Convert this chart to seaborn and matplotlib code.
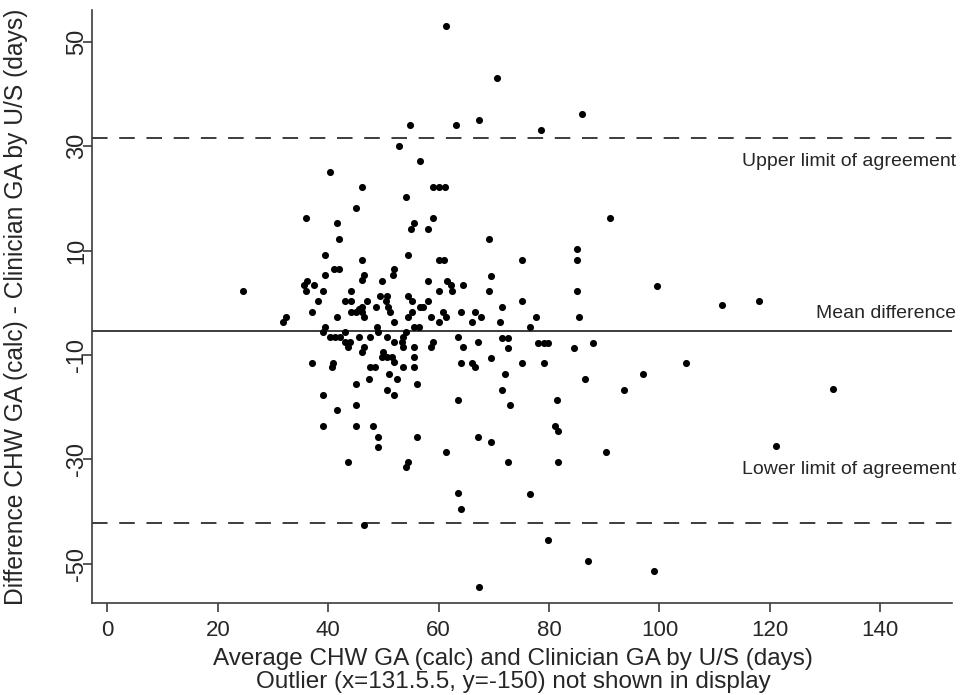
import pandas as pd
import matplotlib
matplotlib.use("Agg")
import matplotlib.pyplot as plt
import seaborn as sns

# --- data (x = average GA, y = difference) ---
avg_ga = [
    61.4, 70.5, 85.9, 54.9, 63.1, 67.4, 78.5, 52.9, 40.4, 56.6,
    46.1, 54.0, 58.9, 60.0, 61.1, 45.0, 35.9, 41.5, 55.5, 55.0,
    58.9, 58.0, 41.9, 39.5, 46.1, 54.4, 60.0, 60.9, 41.0, 41.9,
    52.0, 39.5, 46.4, 46.1, 51.7, 49.8, 58.0, 36.1, 35.6, 35.9,
    37.4, 39.0, 44.1, 61.6, 62.2, 64.5, 60.0, 62.5, 49.3, 50.6,
    38.1, 43.0, 44.1, 54.4, 55.1, 47.1, 46.1, 45.5, 48.6, 50.4,
    50.8, 51.2, 57.1, 56.6, 58.0, 44.1, 45.0, 46.1, 37.0, 41.5,
    46.4, 55.1, 54.4, 52.0, 60.7, 61.4, 58.6, 60.0, 64.1, 66.5,
    66.0, 32.3, 31.8, 39.5, 39.0, 48.8, 49.1, 55.5, 56.4, 54.0,
    40.3, 41.2, 42.1, 43.0, 43.0, 43.9, 43.6, 45.5, 47.5, 50.6,
    53.5, 53.3, 52.0, 58.9, 58.6, 63.5, 67.1, 64.4, 46.4, 46.1,
    53.5, 55.5, 50.0, 49.7, 50.6, 51.5, 52.0, 55.5, 37.0, 40.8,
    40.6, 47.5, 48.4, 53.5, 55.5, 64.0, 66.0, 66.5, 51.0, 47.3,
    52.4, 45.0, 56.0, 39.0, 50.6, 52.0, 63.5, 45.0, 41.5, 39.0,
    45.0, 48.1, 49.0, 56.0, 67.1, 49.0, 61.4, 43.5, 54.4, 54.0,
    63.5, 64.1, 46.4, 67.3, 91.0, 69.1, 85.0, 85.0, 75.1, 69.4,
    69.1, 85.0, 99.5, 75.1, 67.6, 71.4, 71.1, 77.6, 85.5, 76.5,
    71.4, 72.5, 72.5, 78.0, 79.0, 79.9, 84.5, 87.9, 69.4, 75.1,
    79.0, 72.0, 86.5, 97.0, 71.4, 93.5, 73.0, 81.5, 69.4, 81.0,
    81.6, 90.4, 72.5, 81.6, 76.5, 79.9, 87.0, 99.0, 111.4, 118.0,
    104.8, 131.4, 121.1, 24.5,
]
diff_ga = [
    53.1, 43.1, 36.2, 34.1, 34.1, 35.1, 33.1, 30.1, 25.1, 27.2,
    22.2, 20.3, 22.2, 22.2, 22.2, 18.2, 16.3, 15.3, 15.3, 14.2,
    16.3, 14.2, 12.3, 9.2, 8.2, 9.2, 8.2, 8.2, 6.5, 6.5,
    6.5, 5.4, 5.4, 4.4, 5.4, 4.2, 4.2, 4.2, 3.4, 2.3,
    3.4, 2.3, 2.3, 4.2, 3.4, 3.4, 2.3, 2.3, 1.3, 1.3,
    0.4, 0.4, 0.4, 1.3, 0.4, 0.4, -0.8, -1.1, -0.8, 0.4,
    -0.8, -1.7, -0.8, -0.8, 0.4, -1.7, -1.7, -1.7, -1.7, -2.7,
    -2.7, -1.7, -2.7, -3.6, -1.7, -2.7, -2.7, -3.6, -1.7, -1.7,
    -3.6, -2.7, -3.6, -4.6, -5.6, -4.6, -5.6, -4.6, -4.6, -5.6,
    -6.5, -6.5, -6.5, -5.6, -7.5, -7.5, -8.4, -6.5, -6.5, -6.5,
    -6.5, -7.5, -7.5, -7.5, -8.4, -6.5, -7.5, -8.4, -8.4, -9.4,
    -8.4, -8.4, -9.4, -10.3, -10.3, -10.3, -11.3, -10.3, -11.5, -11.5,
    -12.3, -12.3, -12.3, -12.3, -12.3, -11.5, -11.5, -12.3, -13.6, -14.6,
    -14.6, -15.5, -15.5, -17.6, -16.7, -17.6, -18.6, -19.5, -20.5, -23.6,
    -23.6, -23.6, -25.7, -25.7, -25.7, -27.6, -28.5, -30.5, -30.5, -31.4,
    -36.4, -39.5, -42.5, -54.4, 16.3, 12.3, 10.3, 8.2, 8.2, 5.2,
    2.3, 2.3, 3.3, 0.4, -2.7, -0.8, -3.6, -2.7, -2.7, -4.6,
    -6.7, -6.7, -8.6, -7.7, -7.7, -7.7, -8.6, -7.7, -10.5, -11.5,
    -11.5, -13.6, -14.6, -13.6, -16.7, -16.7, -19.5, -18.6, -26.6, -23.6,
    -24.5, -28.5, -30.5, -30.5, -36.6, -45.4, -49.4, -51.3, -0.4, 0.4,
    -11.5, -16.5, -27.4, 2.3,
]

mean_diff = -5.3
upper_loa = 31.6
lower_loa = -42.2

x_ticks = [0, 20, 40, 60, 80, 100, 120, 140]
y_ticks = [50, 30, 10, -10, -30, -50]

df = pd.DataFrame({"avg": avg_ga, "diff": diff_ga})

sns.set_style("ticks")
plt.rcParams["font.family"] = ["Liberation Sans", "DejaVu Sans"]
plt.rcParams["axes.unicode_minus"] = False

fig = plt.figure(figsize=(9.63, 6.95), dpi=100)
ax = fig.add_axes([0.0955, 0.1324, 0.8931, 0.8532])

sns.scatterplot(data=df, x="avg", y="diff", ax=ax, color="black",
                s=26, linewidth=0, zorder=3)

line_col = "#3c3c3c"
ax.axhline(upper_loa, color=line_col, lw=1.4, ls=(0, (8, 6)), zorder=2)
ax.axhline(lower_loa, color=line_col, lw=1.4, ls=(0, (8, 6)), zorder=2)
ax.axhline(mean_diff, color=line_col, lw=1.4, zorder=2)

trans = ax.get_yaxis_transform()
txt_kw = dict(transform=trans, ha="right", va="center", fontsize=14)
ax.text(1.005, upper_loa - 4.6, "Upper limit of agreement", **txt_kw)
ax.text(1.005, mean_diff + 3.3, "Mean difference", **txt_kw)
ax.text(1.005, -31.9, "Lower limit of agreement", **txt_kw)

ax.set_xlim(-2.8, 153)
ax.set_ylim(-57.5, 56.1)
ax.set_xticks(x_ticks)
ax.set_yticks(y_ticks)
ax.tick_params(axis="both", length=6.3, width=1.2, color=line_col)
ax.tick_params(axis="x", labelsize=16, pad=6.3)
ax.tick_params(axis="y", labelsize=17, pad=-3.5)
plt.setp(ax.get_yticklabels(), rotation=90, va="center")

ax.set_xlabel("Average CHW GA (calc) and Clinician GA by U/S (days)\n"
              "Outlier (x=131.5.5, y=-150) not shown in display",
              fontsize=17.5, linespacing=1.07)
ax.xaxis.set_label_coords(0.49, -0.0759)
ax.set_ylabel("Difference CHW GA (calc) - Clinician GA by U/S (days)",
              fontsize=17.7)
ax.yaxis.set_label_coords(-0.0744, 0.5)

sns.despine(ax=ax)
for side in ["left", "bottom"]:
    ax.spines[side].set_color(line_col)
    ax.spines[side].set_linewidth(1.2)

fig.savefig("out.png", dpi=100)
